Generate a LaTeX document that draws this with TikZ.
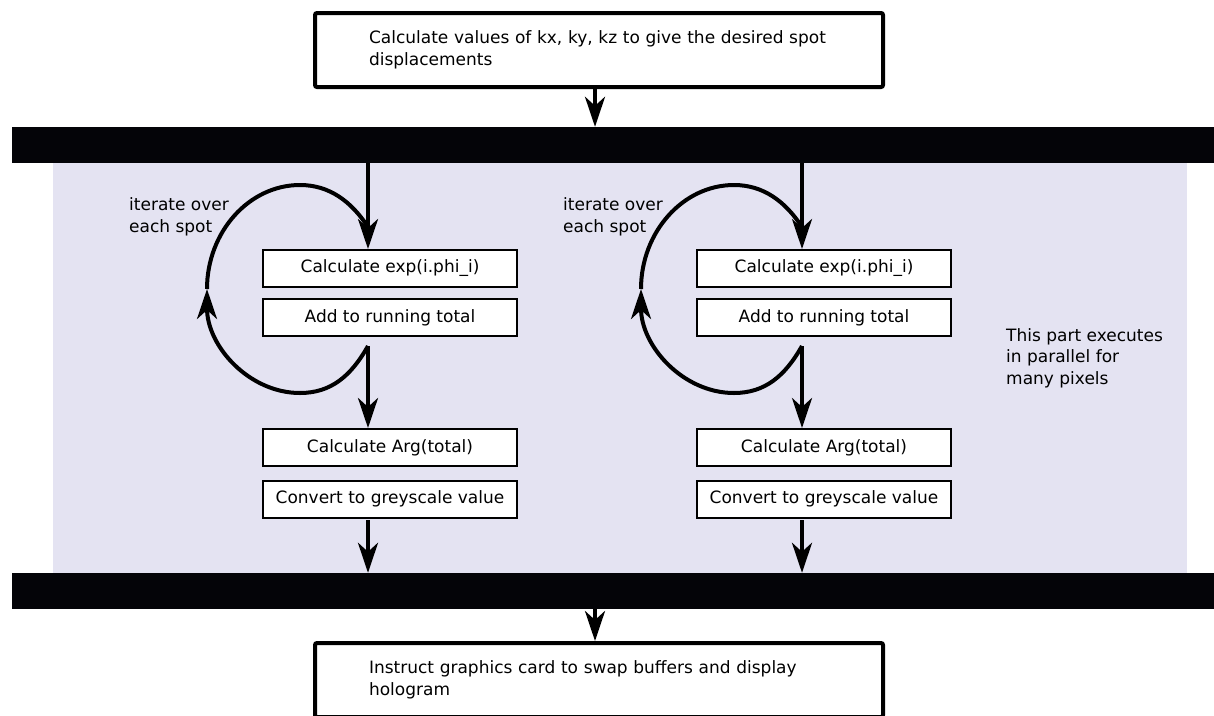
\documentclass[tikz,border=0pt]{standalone}
\usepackage{fontspec}
\setmainfont{DejaVu Sans}
\usepackage{tikz}
\usetikzlibrary{arrows.meta}
\definecolor{panelbg}{RGB}{228,227,242}
\definecolor{barblack}{RGB}{4,4,8}
\newcommand\boxfont{\fontsize{17pt}{21.5pt}\selectfont}

\begin{document}
\begin{tikzpicture}[x=1pt,y=-1pt,
  stage/.style={rectangle,draw=black,line width=2pt,fill=white,minimum width=254pt,minimum height=37pt,inner sep=0pt,font=\boxfont},
  task/.style={rectangle,draw=black,line width=4pt,rounded corners=2pt,fill=white,minimum width=568pt,minimum height=74pt,text width=460pt,inner xsep=54pt,align=left,font=\boxfont},
  sync/.style={rectangle,fill=barblack,minimum width=1202pt,minimum height=36pt,inner sep=0pt},
  panel/.style={rectangle,fill=panelbg,minimum width=1134pt,minimum height=410pt,inner sep=0pt},
  arrow/.style={-{Stealth[length=30pt,width=20pt,inset=9pt]},line width=4pt,black},
  loopline/.style={line width=4pt,black},
  note/.style={align=left,inner sep=0pt,font=\boxfont}
  ]
  \path[use as bounding box,clip] (0,0) rectangle (1214,715);

  \node[task] (calc) at (599,50) {Calculate values of kx, ky, kz to give the desired spot\\displacements};
  \node[sync] (bar1) at (613,145) {};
  \node[panel] (par) at (620,368) {};
  \node[sync] (bar2) at (613,591) {};
  \node[task] (swap) at (599,680) {Instruct graphics card to swap buffers and display\\hologram};

  % left pixel
  \node[stage] (expL) at (390,268.5) {Calculate exp(i.phi\_i)};
  \node[stage] (addL) at (390,317.5) {Add to running total};
  \node[stage] (argL) at (390,447.5) {Calculate Arg(total)};
  \node[stage] (greyL) at (390,499) {Convert to greyscale value};
  % right pixel
  \node[stage] (expR) at (824,268.5) {Calculate exp(i.phi\_i)};
  \node[stage] (addR) at (824,317.5) {Add to running total};
  \node[stage] (argR) at (824,447.5) {Calculate Arg(total)};
  \node[stage] (greyR) at (824,499) {Convert to greyscale value};

  \node[note,anchor=west] (iterL) at (129,217) {iterate over\\each spot};
  \node[note,anchor=west] (iterR) at (563,217) {iterate over\\each spot};
  \node[note,anchor=west] (many) at (1006,358) {This part executes\\in parallel for\\many pixels};

  \coordinate (mid) at (595,0);
  \coordinate (axisL) at (368,0);
  \coordinate (axisR) at (802,0);
  \coordinate (loopL) at (368,346);
  \coordinate (loopR) at (802,346);
  \coordinate (outL) at (368,520);
  \coordinate (outR) at (802,520);
  \coordinate (turnL) at (207,289);
  \coordinate (turnR) at (641,289);
  \coordinate (joinL) at (368,227);
  \coordinate (joinR) at (802,227);

  \draw[arrow] (mid |- calc.south) -- (mid |- bar1.north);
  \draw[arrow] (axisL |- bar1.south) -- (axisL |- expL.north);
  \draw[arrow] (axisR |- bar1.south) -- (axisR |- expR.north);
  \draw[arrow] (loopL) -- (axisL |- argL.north);
  \draw[arrow] (loopR) -- (axisR |- argR.north);
  \draw[arrow] (outL) -- (axisL |- bar2.north);
  \draw[arrow] (outR) -- (axisR |- bar2.north);
  \draw[arrow] (mid |- bar2.south) -- (mid |- swap.north);

  % iterate loops
  \draw[arrow] (loopL) .. controls (351,376) and (331,393) .. (300,393) .. controls (249,393) and (207,346) .. (turnL);
  \draw[loopline] (turnL) .. controls (207,232) and (249,185) .. (300,185) .. controls (329,185) and (351,201) .. (joinL);
  \draw[arrow] (loopR) .. controls (785,376) and (765,393) .. (734,393) .. controls (683,393) and (641,346) .. (turnR);
  \draw[loopline] (turnR) .. controls (641,232) and (683,185) .. (734,185) .. controls (763,185) and (785,201) .. (joinR);
\end{tikzpicture}
\end{document}
